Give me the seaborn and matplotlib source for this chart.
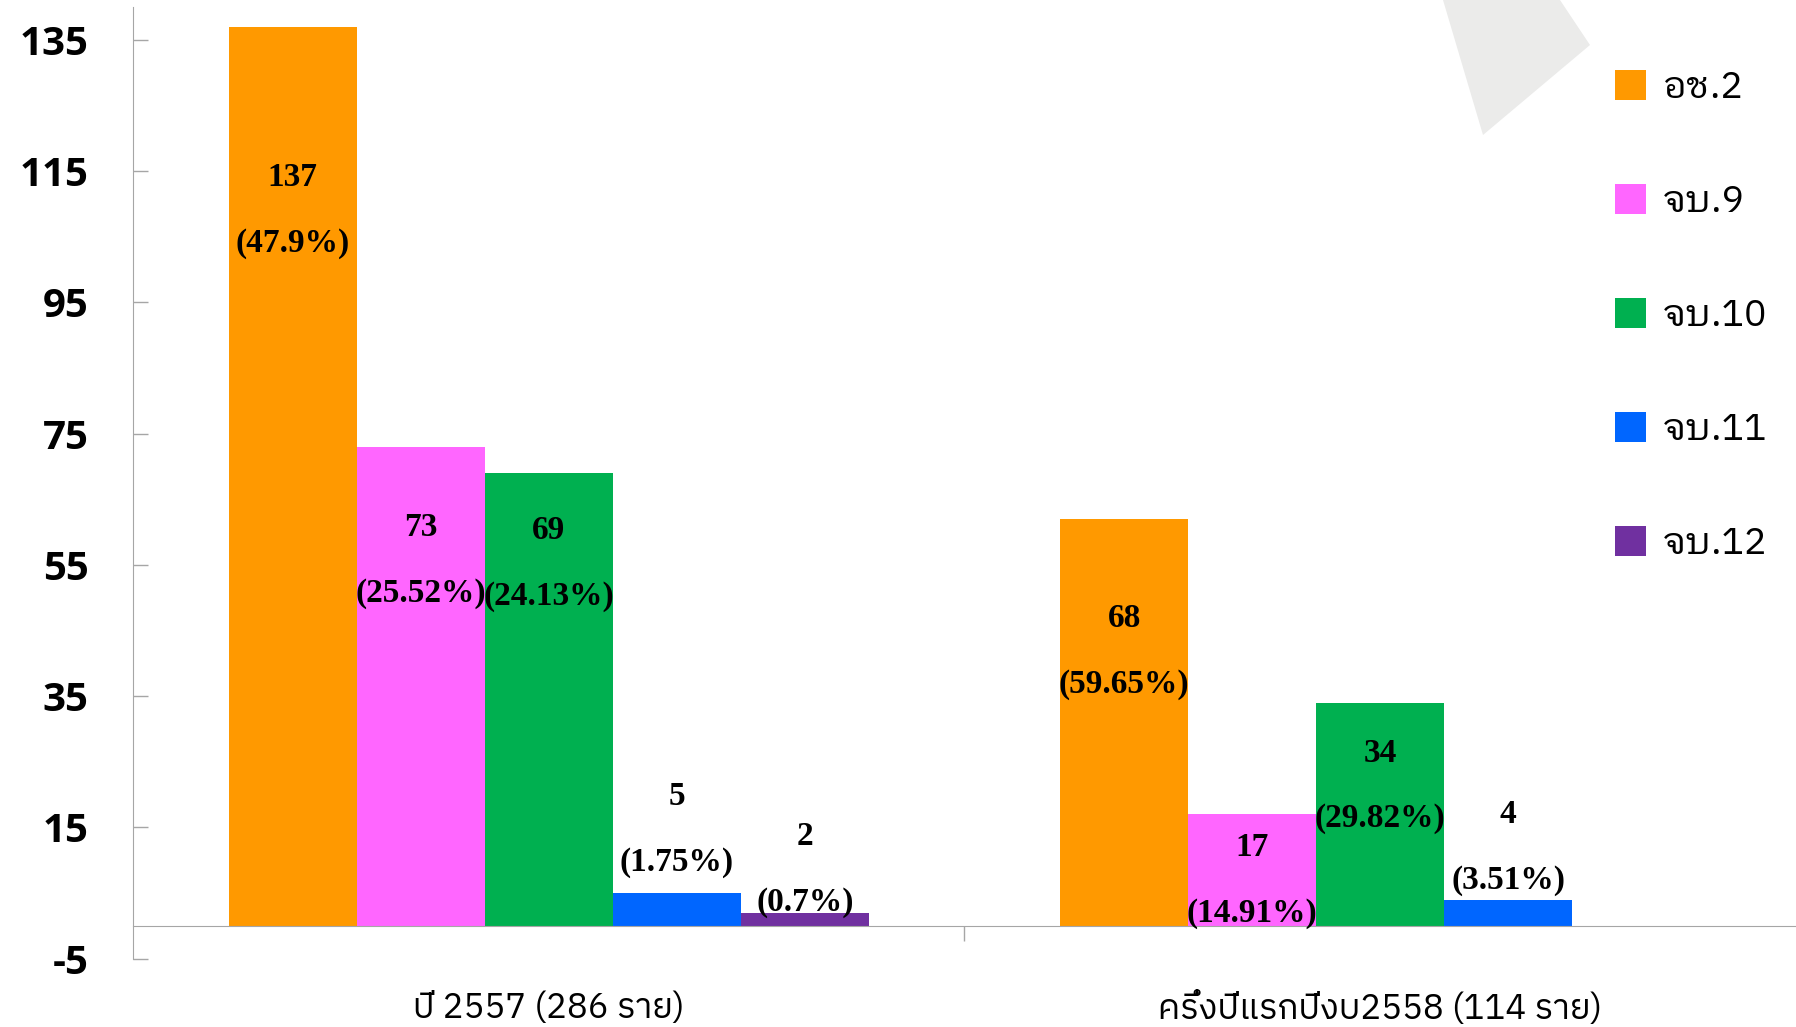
import matplotlib
matplotlib.use('Agg')
import matplotlib.pyplot as plt
import seaborn as sns
import pandas as pd
from matplotlib import font_manager
from matplotlib.ft2font import FT2Font
from matplotlib.patches import Patch, Polygon
import matplotlib.transforms as mtransforms

# data
periods = ['ปี 2557 (286 ราย)', 'ครึ่งปีแรกปีงบ2558 (114 ราย)']
units = ['อช.2', 'จบ.9', 'จบ.10', 'จบ.11', 'จบ.12']
counts_2557 = [137, 73, 69, 5, 2]
pct_2557 = ['(47.9%)', '(25.52%)', '(24.13%)', '(1.75%)', '(0.7%)']
counts_2558 = [68, 17, 34, 4]
pct_2558 = ['(59.65%)', '(14.91%)', '(29.82%)', '(3.51%)']
# the source chart draws the 68 bar only up to about 62
bars_2558 = [62, 17, 34, 4]

colors = ['#FF9900', '#FF66FF', '#00B050', '#0066FF', '#7030A0']

# where the two-line value labels sit (y of the count line)
label_y_2557 = [114, 60.7, 60.2, 19.7, 13.6]
label_y_2558 = [46.8, 11.9, 26.3, 16.9]

plt.rcParams['axes.unicode_minus'] = False

# find an installed font that has Thai glyphs
thai = set()
for f in font_manager.fontManager.ttflist:
    try:
        if 0x0E01 in FT2Font(f.fname).get_charmap():
            thai.add(f.name)
    except Exception:
        pass
thai = sorted(thai, key=lambda n: ('Thai' not in n, 'Looped' in n, n))
looped = sorted(thai, key=lambda n: ('Looped' not in n, 'Thai' not in n, n))
thai_font = thai[:1] + ['DejaVu Sans']
legend_font = looped[:1] + ['DejaVu Sans']

rows = [(periods[0], u, v) for u, v in zip(units, counts_2557)]
rows += [(periods[1], u, v) for u, v in zip(units, bars_2558)]
df = pd.DataFrame(rows, columns=['period', 'unit', 'value'])

W, H = 1796, 1027
fig = plt.figure(figsize=(W / 100, H / 100), dpi=100)
ax = fig.add_axes([0.074, 0.0665, 0.926, 0.9267])
ax.set_facecolor('none')

sns.barplot(data=df, x='period', y='value', hue='unit', order=periods,
            hue_order=units, palette=colors, saturation=1, width=0.77,
            linewidth=0, errorbar=None, legend=False, ax=ax)

ax.set_xlim(-0.5, 1.5)
ax.set_ylim(-5, 140)
ax.set_yticks(range(-5, 136, 20))
ax.set_xlabel('')
ax.set_ylabel('')

axis_gray = '#A6A6A6'
for s in ['top', 'right']:
    ax.spines[s].set_visible(False)
ax.spines['left'].set_color(axis_gray)
ax.spines['bottom'].set_color(axis_gray)
ax.spines['bottom'].set_position(('data', 0))

ax.tick_params(axis='y', direction='in', length=11, width=1, color=axis_gray,
               pad=32, labelsize=29)
for t in ax.get_yticklabels():
    t.set_fontfamily('Open Sans')
    t.set_fontweight('bold')

ax.set_xticks([])
ax.set_xticks([0.5], minor=True)
ax.tick_params(axis='x', which='minor', direction='out', length=11, width=1,
               color=axis_gray)

# category labels under the axis
trans = mtransforms.blended_transform_factory(ax.transData, ax.transAxes)
for i, p in enumerate(periods):
    ax.text(i, -0.052, p, transform=trans, ha='center', va='center',
            fontsize=25, family=thai_font)

# value labels
counts = [counts_2557, counts_2558]
pcts = [pct_2557, pct_2558]
label_y = [label_y_2557, label_y_2558]
for i, cont in enumerate(ax.containers):
    for bar in cont:
        xc = bar.get_x() + bar.get_width() / 2
        j = int(round(xc))
        ax.text(xc, label_y[j][i], str(counts[j][i]), ha='center', va='center',
                fontsize=24, fontweight='bold', family='Liberation Serif')
        ax.text(xc, label_y[j][i] - 10, pcts[j][i], ha='center', va='center',
                fontsize=24, fontweight='bold', family='Liberation Serif')

# legend
handles = [Patch(facecolor=c, edgecolor='none') for c in colors]
leg = ax.legend(handles, units, loc='upper left',
                bbox_to_anchor=(1615 / W, 1 - 70 / H),
                bbox_transform=fig.transFigure, frameon=False,
                handlelength=0.82, handleheight=0.82, handletextpad=0.45,
                labelspacing=2.08, borderpad=0, borderaxespad=0,
                prop={'family': legend_font, 'size': 27})

# light grey decorative shape in the top right
pts = [(1443, 0), (1560, 0), (1590, 45), (1483, 135)]
ax.add_patch(Polygon([(x / W, 1 - y / H) for x, y in pts], closed=True,
                     transform=fig.transFigure, facecolor='#EBEBEA',
                     edgecolor='none', zorder=0, clip_on=False))

fig.savefig('out.png', dpi=100)
